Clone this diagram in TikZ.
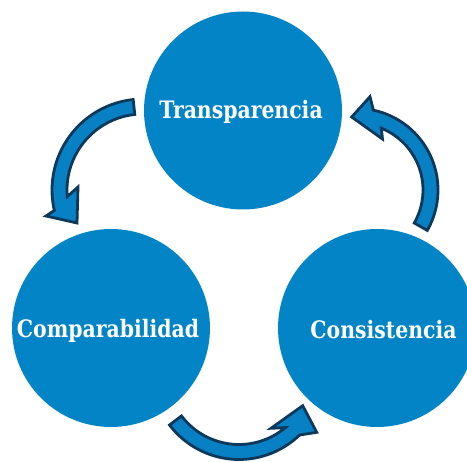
\documentclass[tikz,border=0pt]{standalone}
\usepackage{fontspec}
\newfontfamily\lblfont[FakeStretch=0.85]{DejaVu Serif}
\definecolor{cblue}{RGB}{2,132,199}
\definecolor{ablue}{RGB}{8,128,196}
\definecolor{navy}{RGB}{12,56,90}
\begin{document}
\begin{tikzpicture}[x=1pt,y=-1pt,
  bubble/.style={circle, fill=cblue, minimum size=198pt, inner sep=0pt},
  lbl/.style={anchor=base, text=white, inner sep=0pt,
    font=\lblfont\bfseries\fontsize{24}{28}\selectfont},
  cyc/.style={fill=ablue, draw=navy, line width=2.8pt, line join=miter}]
\useasboundingbox (0,0) rectangle (467,462);

% circles
\node[bubble] (tra) at (243,110.5) {};
\node[bubble] (com) at (111,328) {};
\node[bubble] (con) at (377,328) {};

% labels
\node[lbl] (ltra) at (241,119) {Transparencia};
\node[lbl] (lcom) at (108,338) {Comparabilidad};
\node[lbl] (lcon) at (383.5,338.3) {Consistencia};

% arrow Transparencia -> Comparabilidad
\draw[cyc] plot[domain=263.8:167, samples=40, variable=\t] ({143+91*cos(\t)},{190+91*sin(\t)})
  -- (46,216) -- (77,223) -- (78,187)
  -- plot[domain=175:263.8, samples=40, variable=\t] ({143+76*cos(\t)},{190+76*sin(\t)}) -- cycle;

% arrow Comparabilidad -> Consistencia
\draw[cyc] plot[domain=142.8:46, samples=40, variable=\t] ({239+87.2*cos(\t)},{372.3+87.2*sin(\t)})
  -- (316.7,432.3) -- (302.7,405.7) -- (271,428.3)
  -- plot[domain=50:142.8, samples=40, variable=\t] ({239+72.2*cos(\t)},{372.3+72.2*sin(\t)}) -- cycle;

% arrow Consistencia -> Transparencia
\draw[cyc] plot[domain=29.7:-78, samples=40, variable=\t] ({356.4+81.6*cos(\t)},{190+81.6*sin(\t)})
  -- (370,96.7) -- (351.7,117) -- (382.5,139)
  -- plot[domain=-68:29.7, samples=40, variable=\t] ({356.4+66.6*cos(\t)},{190+66.6*sin(\t)}) -- cycle;
\end{tikzpicture}
\end{document}
